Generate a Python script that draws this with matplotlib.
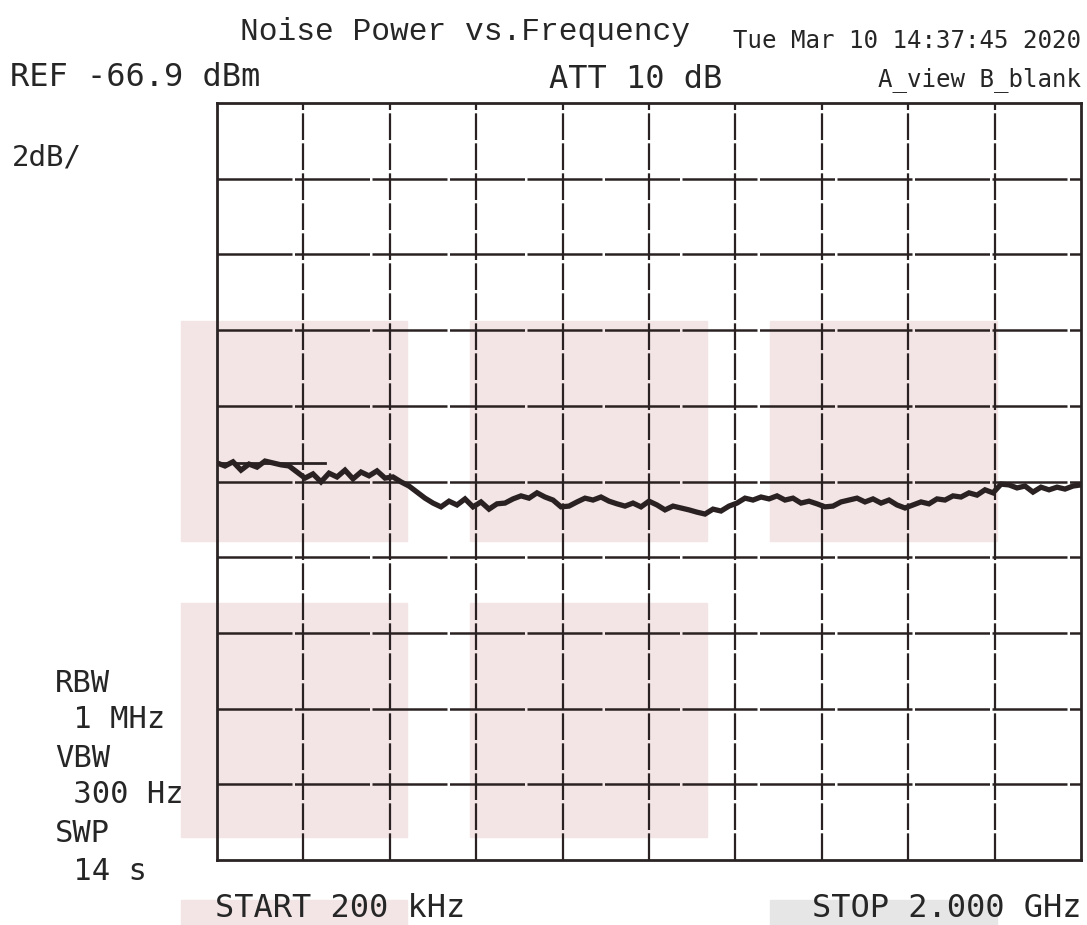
import numpy as np
import matplotlib
matplotlib.use("Agg")
import matplotlib.pyplot as plt
from matplotlib.patches import Rectangle

# analyzer settings
ref_level = -66.9      # dBm, top line
db_per_div = 2.0
n_div = 10
f_start = 0.0002       # GHz
f_stop = 2.0           # GHz

# trace (dBm), sweep points equally spaced start..stop
level = [
    -76.41, -76.49, -76.38, -76.60, -76.44, -76.52, -76.36, -76.41, -76.46, -76.49,
    -76.65, -76.81, -76.70, -76.91, -76.68, -76.78, -76.60, -76.83, -76.65, -76.75,
    -76.62, -76.81, -76.78, -76.91, -77.02, -77.18, -77.34, -77.47, -77.57, -77.42,
    -77.52, -77.36, -77.57, -77.44, -77.63, -77.49, -77.47, -77.36, -77.28, -77.34,
    -77.20, -77.31, -77.39, -77.57, -77.55, -77.44, -77.34, -77.39, -77.31, -77.42,
    -77.49, -77.55, -77.47, -77.57, -77.42, -77.52, -77.65, -77.55, -77.60, -77.65,
    -77.71, -77.76, -77.63, -77.68, -77.55, -77.47, -77.34, -77.39, -77.31, -77.36,
    -77.28, -77.39, -77.34, -77.47, -77.42, -77.49, -77.57, -77.55, -77.44, -77.39,
    -77.34, -77.44, -77.36, -77.47, -77.39, -77.52, -77.60, -77.52, -77.44, -77.49,
    -77.36, -77.39, -77.28, -77.31, -77.20, -77.26, -77.12, -77.20, -76.97, -76.99,
    -77.07, -77.02, -77.18, -77.05, -77.12, -77.05, -77.10, -77.02, -76.99,
]
freq = np.linspace(f_start, f_stop, len(level))

# short display line near the left edge
disp_line_level = -76.41
disp_line_stop = 0.25

W, H = 1087, 925
fig = plt.figure(figsize=(W / 100, H / 100), dpi=100)
fig.patch.set_facecolor("white")

# scan artefacts: faint tinted blocks behind the screen
pink = "#f3e4e5"
blocks = [
    (181, 321, 226, 220, pink), (470, 321, 237, 220, pink), (770, 321, 227, 220, pink),
    (181, 603, 226, 234, pink), (470, 603, 237, 234, pink),
    (181, 900, 226, 25, pink), (770, 900, 227, 25, "#e6e6e6"),
]
for bx, by, bw, bh, c in blocks:
    fig.patches.append(Rectangle((bx / W, 1 - (by + bh) / H), bw / W, bh / H,
                                 transform=fig.transFigure, color=c, zorder=-5))

ax = fig.add_axes([217 / W, 1 - 860 / H, (1081 - 217) / W, (860 - 103) / H])
ax.set_zorder(2)
ax.set_facecolor("none")
bottom = ref_level - n_div * db_per_div
ax.set_xlim(f_start, f_stop)
ax.set_ylim(bottom, ref_level)
ax.set_xticks([])
ax.set_yticks([])
for s in ax.spines.values():
    s.set_color("#2a2424")
    s.set_linewidth(2)

ink = "#2a2222"
for k in range(1, n_div):
    ax.axvline(f_start + k * (f_stop - f_start) / n_div, color=ink, lw=1.6,
               dashes=(12, 1.5), zorder=1)
    ax.axhline(ref_level - k * db_per_div, color=ink, lw=1.8,
               dashes=(30, 1), zorder=1)

ax.plot(freq, level, color=ink, lw=3.8, solid_joinstyle="miter", zorder=3)
ax.plot([f_start, disp_line_stop], [disp_line_level, disp_line_level],
        color=ink, lw=2, zorder=3)

tc = "#262626"
mono = "DejaVu Sans Mono"


def label(x, y, s, size, family=mono, ha="left"):
    fig.text(x / W, 1 - y / H, s, fontsize=size, family=family, color=tc,
             ha=ha, va="baseline")


label(240, 40, "Noise Power vs.Frequency", 22.5, family="Liberation Mono")
label(1081, 48, "Tue Mar 10 14:37:45 2020", 17.4, ha="right")
label(10, 86, "REF -66.9 dBm", 23)
label(549, 88, "ATT 10 dB", 23)
label(1081, 86, "A_view B_blank", 17.4, ha="right")
label(12, 166, "2dB/", 21)
label(55, 692, "RBW", 22)
label(55, 728, " 1 MHz", 22)
label(55, 767, "VBW", 22)
label(55, 803, " 300 Hz", 22)
label(55, 842, "SWP", 22)
label(55, 880, " 14 s", 22)
label(215, 917, "START 200 kHz", 23)
label(1081, 917, "STOP 2.000 GHz", 23, ha="right")

fig.savefig("out.png", dpi=100)
